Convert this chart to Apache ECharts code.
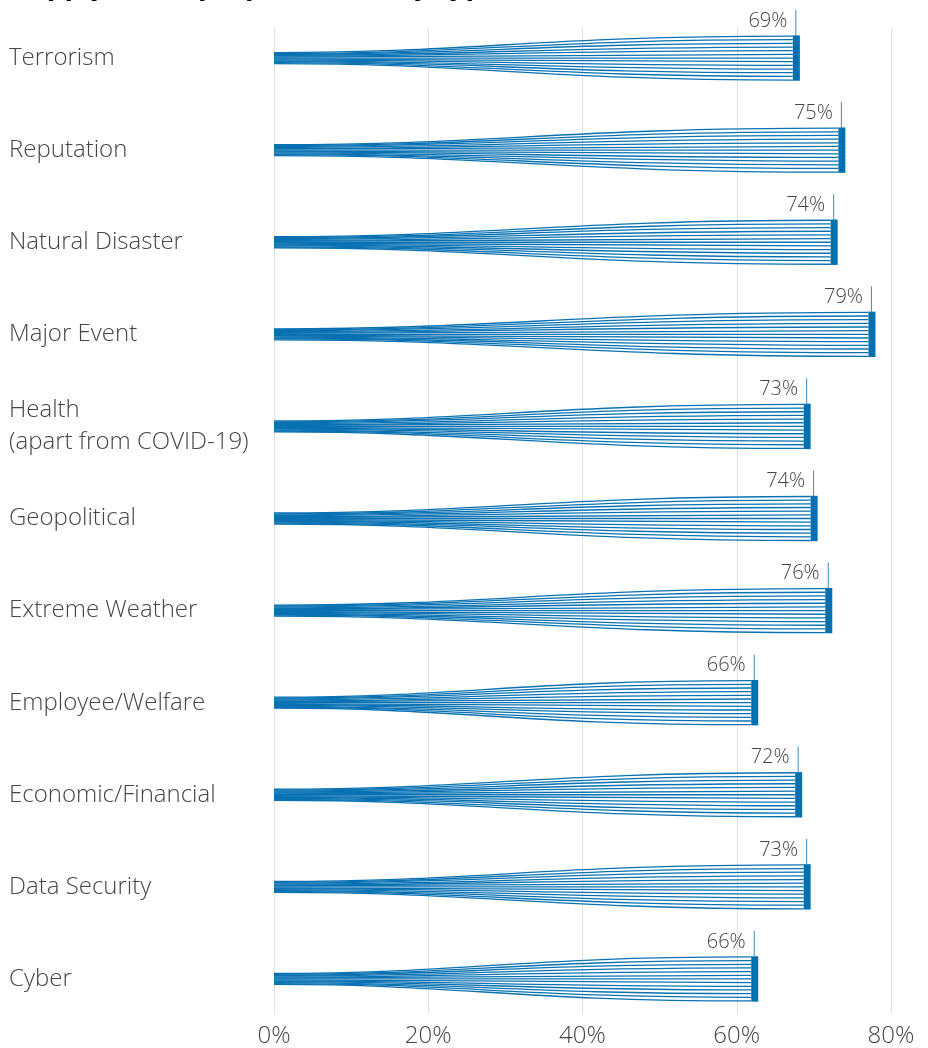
<!DOCTYPE html>
<html>
<head>
<meta charset="utf-8">
<script src="https://cdn.jsdelivr.net/npm/echarts@6/dist/echarts.min.js"></script>
<style>
  html, body { margin: 0; padding: 0; background: #ffffff; }
  #chart { width: 928px; height: 1048px; }
</style>
</head>
<body>
<div id="chart"></div>
<script>
// ---- Data ----
const titleText = 'Supply chain preparedness by type of risk';
const categories = [
  'Terrorism', 'Reputation', 'Natural Disaster', 'Major Event',
  'Health\n(apart from COVID-19)', 'Geopolitical', 'Extreme Weather',
  'Employee/Welfare', 'Economic/Financial', 'Data Security', 'Cyber'
];
// Where each fan ends on the x axis (%)
const plottedValues = [67.6, 73.5, 72.5, 77.4, 69.0, 69.9, 71.8, 62.2, 67.9, 69.0, 62.2];
// Printed labels (%)
const labelValues = [69, 75, 74, 79, 73, 74, 76, 66, 72, 73, 66];
const xTicks = [0, 20, 40, 60, 80];

// ---- Chart ----
const chart = echarts.init(document.getElementById('chart'), null, { renderer: 'canvas' });

const BLUE = '#0a72b3';
const TEXT = '#454545';

function renderFan(params, api) {
  const idx = api.value(1);
  const v = api.value(0);
  const p0 = api.coord([0, idx]);
  const p1 = api.coord([v, idx]);
  const x0 = p0[0], cy = p0[1], vx = p1[0];
  const xe = vx - 2.5;
  const L = xe - x0;
  const startHalf = 5.5, endHalf = 22, N = 13;
  const c1 = x0 + 0.4 * L, c2 = x0 + 0.5 * L;
  const children = [];
  for (let i = 0; i < N; i++) {
    const f = i / (N - 1) - 0.5;
    const ys = cy + f * 2 * startHalf;
    const ye = cy + f * 2 * endHalf;
    children.push({
      type: 'bezierCurve',
      shape: { x1: x0, y1: ys, cpx1: c1, cpy1: ys, cpx2: c2, cpy2: ye, x2: xe, y2: ye },
      style: { stroke: BLUE, lineWidth: 1.3, fill: null }
    });
  }
  children.push({
    type: 'rect',
    shape: { x: vx - 2.5, y: cy - endHalf - 0.7, width: 7, height: 2 * endHalf + 1.4 },
    style: { fill: '#0070b0' }
  });
  children.push({
    type: 'line',
    shape: { x1: vx + 0.5, y1: cy - 48, x2: vx + 0.5, y2: cy - endHalf },
    style: { stroke: '#3a8cc2', lineWidth: 1 }
  });
  children.push({
    type: 'text',
    style: {
      text: labelValues[idx] + '%',
      x: vx - 8, y: cy - 37,
      align: 'right', verticalAlign: 'middle',
      textAlign: 'right', textVerticalAlign: 'middle',
      fill: TEXT,
      fontSize: 20, fontFamily: 'Open Sans', fontWeight: 300
    }
  });
  return { type: 'group', children };
}

const option = {
  backgroundColor: '#ffffff',
  animation: false,
  title: {
    text: titleText,
    left: 8, top: -33,
    textStyle: { fontSize: 28, fontWeight: 'bold', color: '#000000', fontFamily: 'Open Sans' }
  },
  grid: [
    { left: 274, right: 37, top: 12, bottom: 23 },
    { left: 274, right: 37, top: 28, bottom: 33 }
  ],
  xAxis: [
    { type: 'value', gridIndex: 0, min: 0, max: 80, show: false },
    {
      type: 'value', gridIndex: 1, min: xTicks[0], max: xTicks[xTicks.length - 1],
      interval: xTicks[1] - xTicks[0],
      axisLine: { show: false }, axisTick: { show: false },
      splitLine: { show: true, lineStyle: { color: '#e2e2e2', width: 1 } },
      axisLabel: {
        margin: 10, formatter: '{value}%',
        color: TEXT, fontSize: 24, fontFamily: 'Open Sans', fontWeight: 300
      }
    }
  ],
  yAxis: [
    {
      type: 'category', gridIndex: 0, inverse: true, data: categories,
      axisLine: { show: false }, axisTick: { show: false }, splitLine: { show: false },
      axisLabel: {
        align: 'left', margin: 265, lineHeight: 32,
        color: TEXT, fontSize: 24, fontFamily: 'Open Sans', fontWeight: 300
      }
    },
    { type: 'value', gridIndex: 1, min: 0, max: 1, show: false }
  ],
  series: [
    {
      type: 'custom',
      xAxisIndex: 0, yAxisIndex: 0,
      renderItem: renderFan,
      encode: { x: 0, y: 1 },
      data: plottedValues.map((v, i) => [v, i]),
      z: 5
    },
    {
      type: 'line', xAxisIndex: 1, yAxisIndex: 1, data: [], silent: true
    }
  ]
};

chart.setOption(option);
</script>
</body>
</html>
